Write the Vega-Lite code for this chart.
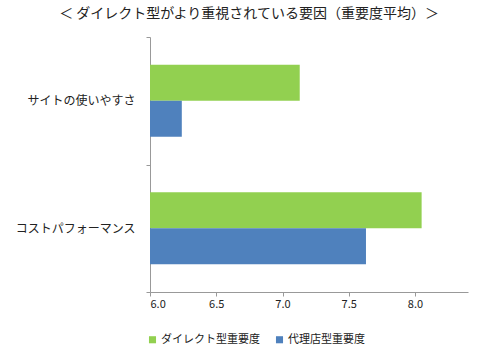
{
  "$schema": "https://vega.github.io/schema/vega-lite/v6.json",
  "autosize": "none",
  "width": 318,
  "height": 255,
  "padding": {"left": 150, "top": 37, "right": 29, "bottom": 68},
  "background": "white",
  "view": {"stroke": null},
  "title": {
    "text": "＜ ダイレクト型がより重視されている要因（重要度平均）＞",
    "font": "Noto Sans CJK JP",
    "fontSize": 14,
    "fontWeight": "normal",
    "color": "#222222",
    "anchor": "middle",
    "dx": -60,
    "offset": 10
  },
  "data": {
    "values": [
      {"item": "サイトの使いやすさ", "series": "ダイレクト型重要度", "value": 7.13},
      {"item": "サイトの使いやすさ", "series": "代理店型重要度", "value": 6.24},
      {"item": "コストパフォーマンス", "series": "ダイレクト型重要度", "value": 8.05},
      {"item": "コストパフォーマンス", "series": "代理店型重要度", "value": 7.63}
    ]
  },
  "mark": {"type": "bar", "clip": true},
  "encoding": {
    "y": {
      "field": "item",
      "type": "nominal",
      "sort": ["サイトの使いやすさ", "コストパフォーマンス"],
      "scale": {"paddingInner": 0, "paddingOuter": 0},
      "axis": {
        "title": null,
        "domainColor": "#999999",
        "tickColor": "#999999",
        "tickSize": 4,
        "tickBand": "extent",
        "labelPadding": 11,
        "labelFont": "Noto Sans CJK JP",
        "labelFontSize": 12,
        "labelColor": "#222222"
      }
    },
    "yOffset": {
      "field": "series",
      "type": "nominal",
      "sort": ["ダイレクト型重要度", "代理店型重要度"],
      "scale": {"paddingInner": 0, "paddingOuter": 0.77}
    },
    "x": {
      "field": "value",
      "type": "quantitative",
      "scale": {"domain": [6, 8.4], "zero": false, "nice": false},
      "axis": {
        "title": null,
        "values": [6, 6.5, 7, 7.5, 8],
        "format": ".1f",
        "grid": false,
        "domainColor": "#999999",
        "tickColor": "#999999",
        "tickSize": 4,
        "labelPadding": 2,
        "labelFont": "Noto Sans CJK JP",
        "labelFontSize": 11,
        "labelColor": "#222222"
      }
    },
    "x2": {"datum": 6},
    "color": {
      "field": "series",
      "type": "nominal",
      "sort": ["ダイレクト型重要度", "代理店型重要度"],
      "scale": {"range": ["#92D050", "#4F81BD"]},
      "legend": {
        "title": null,
        "orient": "none",
        "direction": "horizontal",
        "legendX": -3,
        "legendY": 297,
        "symbolType": "square",
        "symbolSize": 50,
        "symbolStrokeWidth": 0,
        "labelFont": "Noto Sans CJK JP",
        "labelFontSize": 11,
        "labelColor": "#222222",
        "labelOffset": 3,
        "columnPadding": 14
      }
    }
  }
}
